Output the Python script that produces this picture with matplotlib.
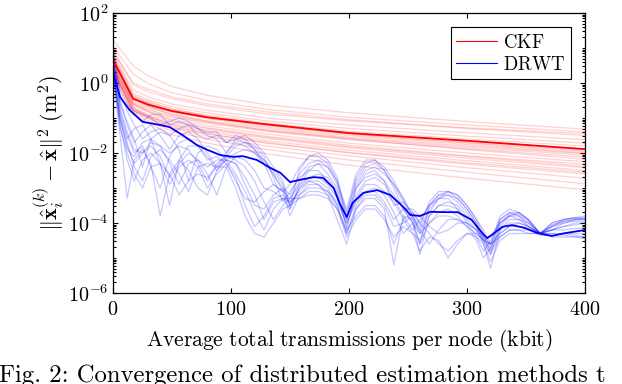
import matplotlib
matplotlib.use('Agg')
import matplotlib.pyplot as plt
import numpy as np

plt.rcParams['mathtext.fontset'] = 'cm'

# CKF (red): log10 of error at these transmission amounts (kbit)
X_CKF = [0, 17, 30, 50, 80, 130, 200, 300, 400]
CKF_LINES = [
	[1.23, 0.50, 0.20, -0.10, -0.35, -0.62, -0.85, -1.10, -1.32],
	[1.05, 0.25, -0.02, -0.28, -0.50, -0.75, -0.98, -1.20, -1.40],
	[0.95, -0.05, -0.25, -0.45, -0.65, -0.88, -1.08, -1.30, -1.50],
	[0.85, -0.20, -0.40, -0.60, -0.78, -1.00, -1.20, -1.42, -1.62],
	[0.80, -0.30, -0.48, -0.68, -0.86, -1.08, -1.30, -1.52, -1.72],
	[0.70, -0.40, -0.56, -0.75, -0.92, -1.14, -1.38, -1.60, -1.80],
	[0.60, -0.50, -0.66, -0.84, -1.00, -1.22, -1.45, -1.70, -1.92],
	[0.75, -0.35, -0.52, -0.74, -0.95, -1.18, -1.42, -1.66, -1.88],
	[0.55, -0.55, -0.70, -0.90, -1.08, -1.30, -1.55, -1.80, -2.02],
	[0.50, -0.60, -0.78, -0.98, -1.15, -1.38, -1.62, -1.88, -2.12],
	[0.65, -0.45, -0.66, -0.90, -1.10, -1.35, -1.60, -1.90, -2.18],
	[0.45, -0.65, -0.82, -1.04, -1.22, -1.46, -1.72, -2.00, -2.25],
	[0.40, -0.70, -0.90, -1.12, -1.30, -1.55, -1.82, -2.10, -2.38],
	[0.55, -0.60, -0.82, -1.08, -1.28, -1.52, -1.78, -2.08, -2.32],
	[0.35, -0.75, -0.94, -1.20, -1.40, -1.65, -1.92, -2.22, -2.50],
	[0.45, -0.70, -0.96, -1.24, -1.45, -1.72, -2.00, -2.32, -2.60],
	[0.30, -0.80, -1.02, -1.30, -1.52, -1.80, -2.08, -2.42, -2.72],
	[0.38, -0.85, -1.08, -1.38, -1.60, -1.90, -2.20, -2.55, -2.88],
	[0.30, -0.90, -1.15, -1.48, -1.72, -2.02, -2.35, -2.72, -3.05],
	[0.90, 0.00, -0.18, -0.40, -0.60, -0.82, -1.05, -1.28, -1.45],
	[0.62, -0.42, -0.60, -0.80, -0.98, -1.20, -1.46, -1.72, -1.96],
	[0.48, -0.58, -0.75, -0.95, -1.12, -1.35, -1.58, -1.84, -2.06],
	[0.40, -0.75, -0.95, -1.18, -1.35, -1.58, -1.85, -2.15, -2.42],
	[0.70, -0.38, -0.58, -0.82, -1.02, -1.26, -1.50, -1.76, -2.00],
	[0.35, -0.80, -1.00, -1.28, -1.45, -1.70, -1.98, -2.28, -2.55],
]
CKF_MEAN = [0.66, -0.45, -0.62, -0.80, -0.98, -1.18, -1.43, -1.65, -1.89]

# DRWT (blue): log10 of error per node
X_DRWT = [0, 6, 12, 18, 25, 32, 40, 48, 56, 64,
	72, 80, 88, 96, 104, 112, 120, 128, 136, 144,
	150, 158, 166, 174, 182, 190, 198, 206, 214, 222,
	230, 238, 246, 254, 260, 268, 276, 284, 292, 300,
	308, 314, 320, 328, 336, 344, 352, 362, 372, 382,
	392, 400]
DRWT_LINES = [
	[0.6, -0.4, -0.7, -0.9, -1.1, -0.9, -0.9, -1.2, -1.1, -1.2,
	 -1.5, -1.6, -1.5, -1.7, -1.6, -1.7, -1.9, -2.2, -2.6, -3.0,
	 -3.2, -2.6, -2.3, -2.2, -2.4, -2.9, -3.7, -2.8, -2.4, -2.3,
	 -2.5, -2.9, -3.4, -3.9, -4.2, -3.6, -3.3, -3.2, -3.3, -3.6,
	 -4.0, -4.4, -4.8, -4.0, -3.8, -3.8, -4.0, -4.3, -4.1, -3.95,
	 -3.9, -3.9],
	[0.4, -0.9, -1.6, -1.3, -1.2, -1.6, -2.3, -3.5, -2.2, -1.8,
	 -1.8, -2.1, -2.5, -2.1, -1.8, -1.7, -1.8, -2.1, -2.7, -3.4,
	 -3.1, -2.7, -2.5, -2.5, -2.8, -3.2, -4.1, -3.2, -2.8, -2.7,
	 -2.9, -3.3, -3.8, -4.2, -3.9, -3.5, -3.3, -3.3, -3.6, -4.0,
	 -4.4, -4.8, -4.5, -3.9, -3.7, -3.8, -4.1, -4.3, -4.0, -3.9,
	 -3.85, -3.9],
	[0.3, -1.2, -2.2, -2.8, -2.2, -2.0, -2.3, -2.9, -2.4, -2.2,
	 -2.4, -3.0, -2.6, -2.3, -2.7, -3.5, -4.1, -3.8, -3.3, -3.2,
	 -3.4, -3.1, -2.8, -2.8, -3.0, -3.5, -4.3, -3.5, -3.1, -3.0,
	 -3.2, -3.7, -4.3, -4.0, -4.3, -4.0, -3.8, -3.8, -3.9, -4.1,
	 -4.3, -4.5, -4.6, -4.3, -4.1, -4.1, -4.2, -4.3, -4.3, -4.3,
	 -4.35, -4.4],
	[0.8, -0.6, -1.1, -1.6, -2.4, -1.6, -1.4, -1.5, -1.9, -2.8,
	 -2.0, -1.8, -1.9, -2.2, -2.0, -1.9, -2.0, -2.2, -2.5, -2.9,
	 -3.6, -2.9, -2.5, -2.3, -2.4, -2.8, -3.9, -3.0, -2.6, -2.5,
	 -2.8, -3.5, -3.4, -3.7, -4.0, -3.5, -3.2, -3.2, -3.4, -3.7,
	 -4.1, -4.5, -4.9, -4.1, -3.8, -3.7, -3.9, -4.3, -4.2, -4.0,
	 -3.9, -3.85],
	[0.5, -1.0, -1.9, -2.1, -1.7, -1.6, -1.8, -2.3, -2.9, -2.3,
	 -2.2, -2.4, -2.2, -2.2, -2.6, -3.1, -3.7, -4.2, -3.6, -3.3,
	 -3.3, -3.3, -3.2, -3.2, -3.3, -3.6, -4.2, -3.8, -3.5, -3.5,
	 -3.8, -4.6, -3.9, -3.7, -4.0, -4.3, -4.6, -4.8, -4.5, -4.3,
	 -4.4, -4.6, -5.1, -4.5, -4.3, -4.3, -4.3, -4.3, -4.4, -4.4,
	 -4.4, -4.45],
	[0.9, -0.3, -0.8, -1.2, -1.6, -1.4, -1.3, -1.5, -1.3, -1.2,
	 -1.3, -1.5, -1.6, -2.0, -1.6, -1.5, -1.7, -2.0, -2.4, -2.8,
	 -3.5, -2.5, -2.1, -2.0, -2.2, -2.7, -3.8, -2.7, -2.3, -2.2,
	 -2.5, -3.0, -3.6, -4.0, -4.6, -3.5, -3.2, -3.1, -3.2, -3.5,
	 -3.9, -4.3, -4.7, -3.9, -3.7, -3.7, -3.9, -4.3, -4.0, -3.9,
	 -3.85, -3.85],
	[0.2, -1.5, -3.3, -2.2, -1.9, -2.3, -3.8, -2.6, -2.2, -2.5,
	 -3.0, -3.2, -2.5, -2.2, -2.3, -2.9, -3.5, -3.6, -3.2, -3.0,
	 -3.5, -3.0, -2.8, -2.9, -3.2, -3.9, -4.6, -3.6, -3.3, -3.3,
	 -3.6, -5.2, -3.8, -3.9, -4.6, -4.0, -3.7, -3.6, -3.8, -4.1,
	 -4.5, -5.0, -4.7, -4.2, -4.0, -4.0, -4.1, -4.3, -4.2, -4.1,
	 -4.05, -4.0],
	[0.7, -0.7, -1.4, -1.9, -2.0, -1.7, -1.8, -2.0, -1.8, -1.9,
	 -2.3, -2.8, -2.3, -2.1, -2.2, -2.4, -2.8, -3.4, -3.9, -3.5,
	 -3.3, -2.9, -2.7, -2.7, -2.9, -3.3, -4.0, -3.3, -2.9, -2.9,
	 -3.1, -3.4, -3.9, -4.3, -4.5, -3.8, -3.5, -3.4, -3.5, -3.8,
	 -4.1, -4.5, -4.4, -4.0, -3.8, -3.9, -4.1, -4.3, -4.1, -4.0,
	 -3.95, -3.95],
	[0.5, -1.3, -2.0, -2.6, -3.0, -2.4, -2.3, -2.6, -3.2, -2.8,
	 -2.6, -2.7, -2.4, -2.4, -3.0, -3.8, -4.3, -4.4, -4.0, -3.6,
	 -3.5, -3.3, -3.1, -3.1, -3.2, -3.6, -4.4, -3.9, -3.6, -3.6,
	 -3.9, -4.4, -4.1, -4.3, -4.8, -4.4, -4.5, -5.0, -4.6, -4.3,
	 -4.3, -4.5, -4.9, -4.4, -4.2, -4.2, -4.3, -4.3, -4.3, -4.35,
	 -4.4, -4.4],
	[0.6, -0.5, -1.2, -1.7, -1.4, -1.2, -1.5, -1.9, -1.5, -1.4,
	 -1.6, -2.0, -2.4, -2.0, -1.7, -1.8, -2.0, -2.3, -2.6, -3.1,
	 -3.3, -2.8, -2.4, -2.3, -2.6, -3.0, -3.9, -2.9, -2.5, -2.4,
	 -2.6, -2.9, -3.3, -3.8, -4.3, -3.7, -3.3, -3.1, -3.2, -3.5,
	 -3.9, -4.2, -4.6, -3.8, -3.6, -3.7, -3.9, -4.3, -4.1, -3.9,
	 -3.85, -3.8],
	[0.3, -1.1, -1.8, -2.3, -2.0, -1.8, -2.1, -2.7, -2.3, -2.0,
	 -2.2, -2.6, -3.2, -2.4, -2.1, -2.2, -2.5, -3.0, -3.1, -3.3,
	 -3.6, -3.0, -2.7, -2.6, -2.7, -3.1, -4.2, -3.0, -2.7, -2.6,
	 -2.8, -3.2, -3.6, -4.0, -4.9, -3.8, -3.5, -3.5, -3.6, -3.9,
	 -4.2, -4.6, -5.3, -4.2, -3.9, -3.9, -4.0, -4.3, -4.2, -4.1,
	 -4.0, -4.0],
	[0.8, -0.8, -1.5, -2.0, -1.8, -2.4, -3.0, -2.1, -1.7, -1.6,
	 -1.8, -2.2, -2.1, -2.3, -2.8, -3.3, -3.4, -3.1, -2.9, -3.1,
	 -3.8, -3.2, -2.9, -2.9, -3.1, -3.4, -4.0, -3.4, -3.1, -3.1,
	 -3.4, -3.9, -3.6, -3.6, -3.8, -4.1, -4.3, -4.2, -4.0, -4.0,
	 -4.2, -4.4, -4.8, -4.3, -4.1, -4.0, -4.1, -4.3, -4.2, -4.2,
	 -4.15, -4.15],
	[1.0, -0.2, -0.6, -0.8, -0.9, -1.0, -1.2, -1.1, -1.0, -1.1,
	 -1.3, -1.4, -1.4, -1.7, -1.5, -1.6, -1.9, -2.3, -2.9, -3.1,
	 -2.9, -2.4, -2.1, -2.1, -2.3, -2.8, -3.6, -2.6, -2.2, -2.2,
	 -2.4, -2.8, -3.3, -3.8, -4.1, -3.4, -3.1, -3.1, -3.3, -3.6,
	 -4.0, -4.4, -4.6, -4.0, -3.75, -3.75, -3.95, -4.3, -4.05, -3.95,
	 -3.9, -3.9],
	[0.4, -1.0, -1.7, -2.4, -2.8, -2.1, -1.9, -2.2, -2.6, -3.1,
	 -2.4, -2.3, -2.4, -2.2, -2.3, -2.7, -3.2, -3.9, -3.4, -3.3,
	 -3.4, -3.2, -3.0, -3.0, -3.1, -3.5, -4.3, -3.6, -3.2, -3.2,
	 -3.5, -4.1, -4.0, -3.8, -4.2, -4.6, -4.2, -3.9, -3.9, -4.0,
	 -4.2, -4.5, -4.6, -4.4, -4.2, -4.2, -4.2, -4.35, -4.35, -4.3,
	 -4.3, -4.3],
]
X_DRWT_MEAN = [0, 6, 14, 25, 40, 48, 59, 71, 80, 91, 102, 110, 122, 133, 142,
	150, 158, 170, 178, 187, 192, 198, 203, 212, 224, 235, 246, 252, 260,
	269, 281, 292, 304, 313, 317, 321, 330, 338, 349, 360, 372, 383, 400]
DRWT_MEAN = [0.3, -0.4, -0.77, -1.11, -1.2, -1.26, -1.49, -1.77, -1.91, -2.06,
	-2.11, -2.09, -2.2, -2.42, -2.57, -2.83, -2.77, -2.69, -2.71, -3.0, -3.43,
	-3.83, -3.43, -3.14, -3.06, -3.2, -3.54, -3.77, -3.8, -3.68, -3.69, -3.69,
	-3.91, -4.29, -4.43, -4.34, -4.11, -4.06, -4.14, -4.29, -4.37, -4.29, -4.2]

X_TICKS = [0, 100, 200, 300, 400]
Y_TICKS = [1e-6, 1e-4, 1e-2, 1e0, 1e2]
Y_TICK_LABELS = [r'$10^{-6}$', r'$10^{-4}$', r'$10^{-2}$', r'$10^{0}$', r'$10^{2}$']


fig = plt.figure(figsize=(6.22, 3.84), dpi=100)
ax = fig.add_axes([113/622, 1 - 293/384, 472/622, 280/384])

for ln in CKF_LINES:
	ax.plot(X_CKF, 10**np.array(ln), color=(1, 0, 0), alpha=0.18, lw=0.9)
for ln in DRWT_LINES:
	ax.plot(X_DRWT, 10**np.array(ln), color=(0, 0, 1), alpha=0.22, lw=0.9)
ax.plot(X_CKF, 10**np.array(CKF_MEAN), color=(1, 0, 0), lw=1.3)
ax.plot(X_DRWT_MEAN, 10**np.array(DRWT_MEAN), color=(0, 0, 0.95), lw=1.3)

ax.set_yscale('log')
ax.set_xlim(0, 400)
ax.set_ylim(1e-6, 1e2)
ax.set_xticks(X_TICKS)
ax.set_xticklabels([r'$%d$' % v for v in X_TICKS])
ax.set_yticks(Y_TICKS)
ax.set_yticklabels(Y_TICK_LABELS)
ax.yaxis.set_minor_locator(matplotlib.ticker.LogLocator(base=10, subs=np.arange(1, 10), numticks=30))
ax.yaxis.set_minor_formatter(matplotlib.ticker.NullFormatter())
ax.tick_params(which='both', direction='in', top=True, right=True, labelsize=14.5, width=0.8)
ax.tick_params(which='major', length=3.5)
ax.tick_params(which='minor', length=2)
ax.tick_params(axis='x', pad=5)
for s in ax.spines.values():
	s.set_linewidth(0.9)

ax.set_xlabel(r'$\mathrm{Average\ total\ transmissions\ per\ node\ (kbit)}$', fontsize=15.5, labelpad=6)
ax.set_ylabel(r'$\|\hat{\mathbf{x}}_i^{(k)}-\hat{\mathbf{x}}\|^2\ (\mathrm{m}^2)$', fontsize=16, labelpad=1)

h1, = ax.plot([], [], color=(1, 0, 0), lw=0.8)
h2, = ax.plot([], [], color=(0, 0, 1), lw=0.8)
leg = ax.legend([h1, h2], [r'$\mathrm{CKF}$', r'$\mathrm{DRWT}$'], loc='upper right',
	fontsize=13.5, fancybox=False, edgecolor='k', framealpha=1, handlelength=2.2,
	handletextpad=0.3, borderaxespad=0.75, borderpad=0.3, labelspacing=0.15)
leg.get_frame().set_linewidth(0.8)

fig.text(-0.002, 0.004, 'Fig. 2: Convergence of distributed estimation methods t',
	family='cmr10', fontsize=17.8, va='baseline', ha='left')

fig.savefig('out.png', dpi=100)
